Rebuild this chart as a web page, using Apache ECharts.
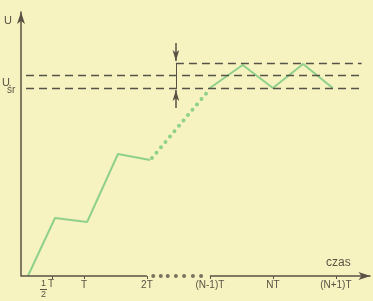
<!DOCTYPE html>
<html>
<head>
<meta charset="utf-8">
<script src="https://cdn.jsdelivr.net/npm/echarts@6/dist/echarts.min.js"></script>
<style>
  html, body { margin: 0; padding: 0; background: #f7f3c1; }
  #chart { width: 373px; height: 301px; }
</style>
</head>
<body>
<div id="chart"></div>
<script>
// czas w jednostkach T, napiecie w jednostkach umownych
var rampX = [0.11, 0.54, 1.05, 1.54, 2.05];
var rampY = [0, 58, 54, 122, 116];

var dottedX = [2.08, 3.0];
var dottedY = [118, 187];

var steadyX = [3.0, 3.52, 4.0, 4.48, 4.95];
var steadyY = [188, 211, 188, 212, 188];

// poziomy przerywane: max, srednia, min
var levels = [213, 201, 188];
var levelStart = [2.46, 0.08, 0.08];
var levelEnd = 5.41;

// kropki na osi czasu miedzy 2T a (N-1)T
var gapDotsX = [2.1, 2.22, 2.33, 2.46, 2.59, 2.73, 2.86];

var tickValues = [0.5, 1, 2, 3, 4, 5];
var tickLabels = ['half', 'T', '2T', '(N-1)T', 'NT', '(N+1)T'];

var ink = '#5b5044';
var green = '#8fd08a';

function pairs(xs, ys) {
  return xs.map(function (x, i) { return [x, ys[i]]; });
}

var chart = echarts.init(document.getElementById('chart'), null, { renderer: 'canvas' });

var levelLines = levels.map(function (v, i) {
  return [
    { coord: [levelStart[i], v], symbol: 'none' },
    { coord: [levelEnd, v], symbol: 'none' }
  ];
});

var option = {
  backgroundColor: '#f7f3c1',
  animation: false,
  grid: { left: 21, right: 0, top: 12, bottom: 25, containLabel: false, outerBoundsMode: 'none' },
  xAxis: {
    type: 'value',
    min: 0,
    max: 5.59,
    splitLine: { show: false },
    axisLine: { show: false },
    axisTick: {
      show: true,
      customValues: tickValues,
      length: 3,
      lineStyle: { color: ink, width: 1 }
    },
    axisLabel: {
      customValues: tickValues,
      margin: 4,
      color: ink,
      fontSize: 10,
      fontFamily: 'Liberation Sans',
      formatter: function (v) {
        var i = tickValues.indexOf(v);
        if (i === 0) {
          return '{n|1}{t|T}{e|}\n{b|}{g|}\n{d|2}{h|}';
        }
        return tickLabels[i];
      },
      rich: {
        n: { fontSize: 9, width: 7, align: 'center', color: ink, lineHeight: 8 },
        t: { fontSize: 10, width: 8, align: 'center', color: ink, lineHeight: 8 },
        e: { width: 10, fontSize: 8, lineHeight: 8 },
        b: { width: 7, height: 1, backgroundColor: ink, fontSize: 2, lineHeight: 3 },
        g: { width: 18, fontSize: 2, lineHeight: 3 },
        d: { fontSize: 9, width: 7, align: 'center', color: ink, lineHeight: 8 },
        h: { width: 18, fontSize: 8, lineHeight: 8 }
      }
    }
  },
  yAxis: {
    type: 'value',
    min: 0,
    max: 264,
    splitLine: { show: false },
    axisTick: { show: false },
    axisLabel: { show: false },
    axisLine: {
      show: true,
      symbol: ['none', 'arrow'],
      symbolSize: [6, 12],
      lineStyle: { color: ink, width: 1.5 }
    }
  },
  graphic: [
    { type: 'text', left: 4, top: 15, style: { text: 'U', fontSize: 11, fill: ink, fontFamily: 'Liberation Sans' } },
    { type: 'text', left: 2, top: 77, style: { text: 'U', fontSize: 11, fill: ink, fontFamily: 'Liberation Sans' } },
    { type: 'text', left: 7, top: 85, style: { text: 'śr', fontSize: 10, fill: ink, fontFamily: 'Liberation Sans' } },
    { type: 'text', left: 326, top: 257, style: { text: 'czas', fontSize: 12, fill: ink, fontFamily: 'Liberation Sans' } }
  ],
  series: [
    {
      type: 'line',
      data: pairs(rampX, rampY),
      symbol: 'none',
      silent: true,
      lineStyle: { color: green, width: 2 }
    },
    {
      type: 'line',
      data: pairs(dottedX, dottedY),
      symbol: 'none',
      silent: true,
      lineStyle: { color: green, width: 4, type: [0, 7], cap: 'round' }
    },
    {
      type: 'line',
      data: pairs(steadyX, steadyY),
      symbol: 'none',
      silent: true,
      lineStyle: { color: green, width: 2 },
      markLine: {
        silent: true,
        label: { show: false },
        lineStyle: { color: '#55524a', width: 1.3, type: [8, 5] },
        data: levelLines
      }
    },
    {
      // os czasu z przerwa i strzalka, podwojna strzalka zakresu tetnien
      type: 'scatter',
      data: gapDotsX.map(function (x) { return [x, 0]; }),
      symbol: 'circle',
      symbolSize: 4,
      silent: true,
      itemStyle: { color: ink },
      markLine: {
        silent: true,
        label: { show: false },
        lineStyle: { color: ink, width: 1.5, type: 'solid' },
        data: [
          [{ coord: [0, 0], symbol: 'none' }, { coord: [2, 0], symbol: 'none' }],
          [{ coord: [3, 0], symbol: 'none' }, { coord: [5.55, 0], symbol: 'arrow', symbolSize: [6, 12] }],
          [{ coord: [2.46, 233], symbol: 'none' }, { coord: [2.46, 215], symbol: 'arrow', symbolSize: [5, 11] }],
          [{ coord: [2.46, 168], symbol: 'none' }, { coord: [2.46, 186], symbol: 'arrow', symbolSize: [5, 11] }],
          [{ coord: [2.46, 213], symbol: 'none', lineStyle: { width: 1 } }, { coord: [2.46, 188], symbol: 'none' }]
        ]
      }
    }
  ]
};

chart.setOption(option);
</script>
</body>
</html>
